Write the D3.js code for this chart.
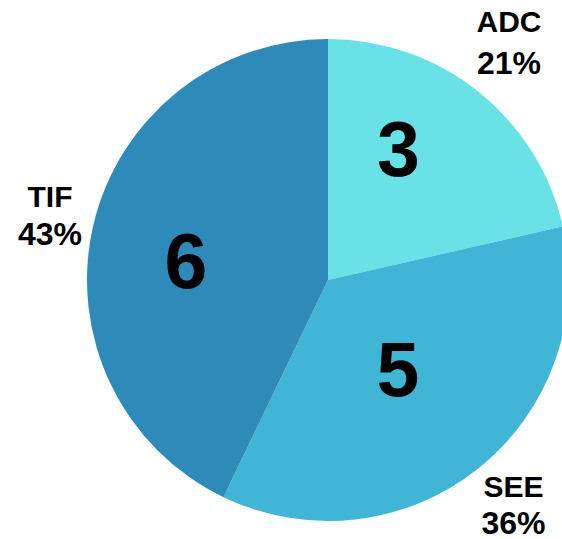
<!DOCTYPE html>
<html>
<head>
<meta charset="utf-8">
<script src="https://cdn.jsdelivr.net/npm/d3@7/dist/d3.min.js"></script>
<style>
  html, body { margin: 0; padding: 0; background: #fff; }
  svg { display: block; }
  text { font-family: "Liberation Sans", Arial, sans-serif; font-weight: 700; fill: #000; }
</style>
</head>
<body>
<svg id="chart" width="562" height="539"></svg>
<script>
// Slice data
const categories = ["ADC", "SEE", "TIF"];
const counts = [3, 5, 6];
const percentLabels = ["21%", "36%", "43%"];
const sliceColors = ["#68E2E6", "#40B5D5", "#2E8AB8"];

const svg = d3.select("#chart");
const cx = 328, cy = 280, radius = 241;

const data = categories.map((c, i) => ({ name: c, value: counts[i], pct: percentLabels[i], color: sliceColors[i] }));

const pie = d3.pie().value(d => d.value).sort(null);
const arcs = pie(data);
const arc = d3.arc().innerRadius(0).outerRadius(radius);

const g = svg.append("g").attr("transform", `translate(${cx},${cy})`);

g.selectAll("path.slice")
  .data(arcs)
  .join("path")
  .attr("class", "slice")
  .attr("d", arc)
  .attr("fill", d => d.data.color);

// Count placement inside each slice (offsets from the pie centre)
const countPos = { ADC: [70.5, -131.5], SEE: [70, 88.5], TIF: [-142, -20] };
g.selectAll("text.count")
  .data(arcs)
  .join("text")
  .attr("class", "count")
  .attr("transform", d => `translate(${countPos[d.data.name][0]},${countPos[d.data.name][1]})`)
  .attr("text-anchor", "middle")
  .attr("dy", "0.358em")
  .attr("font-size", 77)
  .text(d => d.data.value);

// Outer category labels: [centre x, name baseline, percent baseline]
const labelPos = { ADC: [181, -248, -206], SEE: [185.5, 217, 254], TIF: [-278, -73, -35] };
const labels = g.selectAll("g.label")
  .data(arcs)
  .join("g")
  .attr("class", "label")
  .attr("transform", d => `translate(${labelPos[d.data.name][0]},0)`);

labels.append("text")
  .attr("text-anchor", "middle")
  .attr("font-size", 30)
  .attr("y", d => labelPos[d.data.name][1])
  .text(d => d.data.name);
labels.append("text")
  .attr("text-anchor", "middle")
  .attr("font-size", 32)
  .attr("y", d => labelPos[d.data.name][2])
  .text(d => d.data.pct);
</script>
</body>
</html>
